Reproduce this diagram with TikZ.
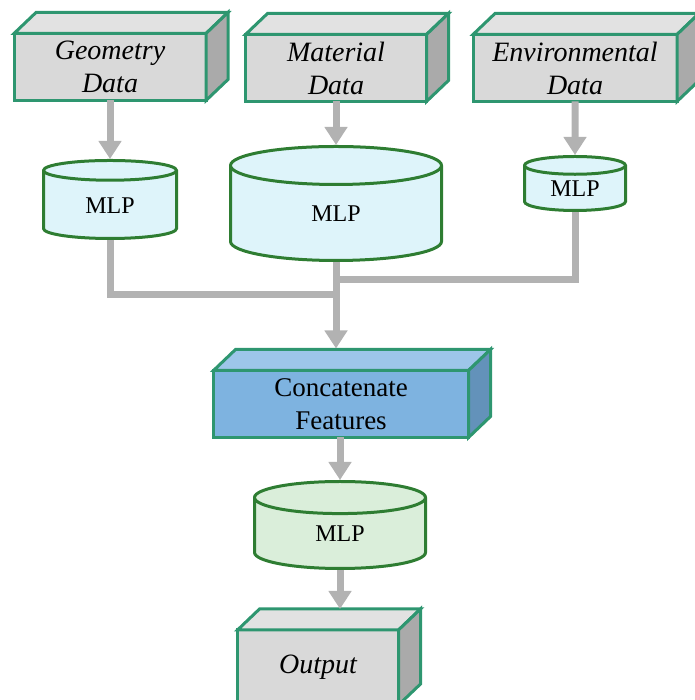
\documentclass[tikz,border=0pt]{standalone}
\usepackage{fontspec}
\setmainfont{Liberation Serif}
\usetikzlibrary{arrows.meta,shapes.geometric}

\definecolor{boxedge}{RGB}{46,150,112}
\definecolor{facegray}{RGB}{217,217,217}
\definecolor{topgray}{RGB}{226,226,226}
\definecolor{sidegray}{RGB}{170,170,170}
\definecolor{facecat}{RGB}{126,179,224}
\definecolor{topcat}{RGB}{157,198,233}
\definecolor{sidecat}{RGB}{99,146,186}
\definecolor{mlpedge}{RGB}{46,125,50}
\definecolor{mlpcyan}{RGB}{222,244,250}
\definecolor{mlpmint}{RGB}{218,238,218}
\definecolor{linkgray}{RGB}{178,178,178}

\tikzset{
    datablock/.style={rectangle,draw=boxedge,line width=3pt,fill=facegray,outer sep=0pt,
        inner sep=0pt,minimum height=67pt,align=center,font=\itshape\fontsize{28}{33}\selectfont},
    catblock/.style={datablock,fill=facecat,font=\fontsize{27}{33}\selectfont},
    faceedge/.style={draw=boxedge,line width=3pt,line join=miter},
    mlp/.style={cylinder,shape border rotate=90,anchor=shape center,draw=mlpedge,line width=3pt,
        fill=mlpcyan,inner sep=0pt,font=\fontsize{24}{28}\selectfont},
    link/.style={draw=linkgray,line width=7pt},
    arr/.style={link,-{Triangle[length=18pt,width=22pt]}}
}

% top and right faces of a block, drawn after the node itself
\newcommand{\boxfaces}[3]{%
    \filldraw[faceedge,fill=#2] (#1.north west) -- ++(22,21) -- ([shift={(22,21)}]#1.north east)
        -- (#1.north east) -- cycle;
    \filldraw[faceedge,fill=#3] (#1.north east) -- ++(22,21) -- ([shift={(22,21)}]#1.south east)
        -- (#1.south east) -- cycle;
}

\begin{document}
\begin{tikzpicture}[x=1pt,y=1pt]
    \useasboundingbox (0,0) rectangle (694,700);

    % input blocks
    \node[datablock,minimum width=192pt] (geo) at (110,633) {Geometry\\Data};
    \node[datablock,minimum width=181pt] (mat) at (336,632) {Material\\Data};
    \node[datablock,minimum width=204pt] (env) at (575,632) {Environmental\\Data};
    \boxfaces{geo}{topgray}{sidegray}
    \boxfaces{mat}{topgray}{sidegray}
    \boxfaces{env}{topgray}{sidegray}

    % one MLP per input
    \node[mlp,aspect=0.40,minimum width=133pt,minimum height=78pt] (m1) at (110,500.5) {MLP};
    \node[mlp,aspect=0.77,minimum width=211pt,minimum height=114pt] (m2) at (336,496.5) {MLP};
    \node[mlp,aspect=0.36,minimum width=101pt,minimum height=54pt] (m3) at (575,516.5) {MLP};

    \node[catblock,minimum width=255pt] (cat) at (341,296) {Concatenate\\Features};
    \boxfaces{cat}{topcat}{sidecat}

    \node[mlp,aspect=0.65,fill=mlpmint,minimum width=171pt,minimum height=87pt] (m4) at (340,175) {MLP};

    \node[datablock,minimum width=161pt,minimum height=75pt] (out) at (318,32.5) {Output};
    \boxfaces{out}{topgray}{sidegray}

    % connectors
    \coordinate (join) at (336,405);
    \coordinate (side) at (336,420);
    \coordinate (cattop) at ([yshift=22]cat.north);
    \coordinate (outtop) at ([yshift=21]out.north);

    \draw[arr] (geo) -- (m1);
    \draw[arr] (mat) -- (m2);
    \draw[arr] (env) -- (m3);
    \draw[link] (m1.south) |- (join);
    \draw[link] (m3.south) |- (side);
    \draw[arr] (m2.south) -- (m2.south |- cattop);
    \draw[arr] (cat.south -| m4) -- (m4);
    \draw[arr] (m4) -- (m4 |- outtop);
\end{tikzpicture}
\end{document}
